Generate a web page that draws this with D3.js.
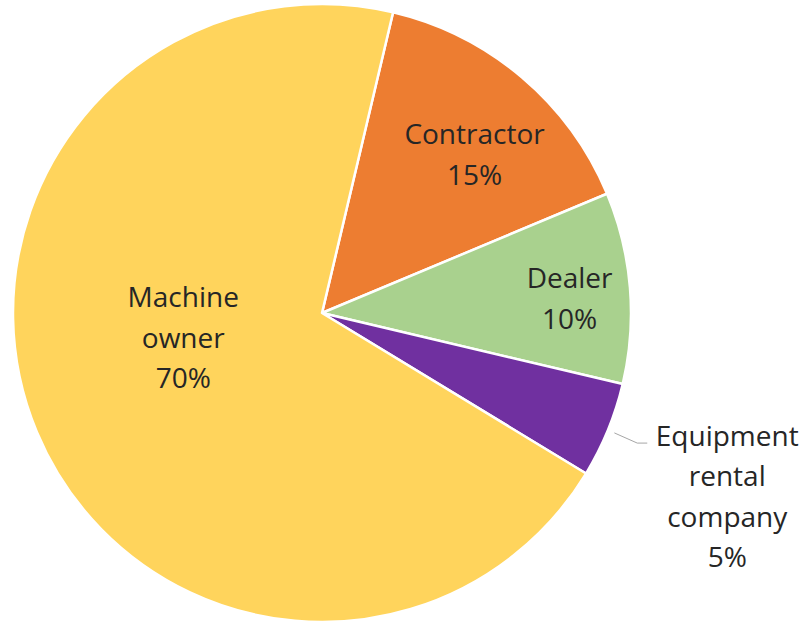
<!DOCTYPE html>
<html>
<head>
<meta charset="utf-8">
<script src="https://cdn.jsdelivr.net/npm/d3@7"></script>
<style>
  body { margin: 0; background: #fff; }
  text { font-family: "Open Sans", Lato, sans-serif; fill: #262626; }
</style>
</head>
<body>
<div id="chart"></div>
<script>
const width = 808;
const height = 626;

// data
const categories = ["Contractor", "Dealer", "Equipment rental company", "Machine owner"]
const shares = [15, 10, 5, 70]
const colors = ["#ED7D31", "#A9D18E", "#7030A0", "#FFD45C"]
// label lines (how the text is broken)
const labelLines = [
    ["Contractor", "15%"],
    ["Dealer", "10%"],
    ["Equipment", "rental", "company", "5%"],
    ["Machine", "owner", "70%"]
]

const cx = 322
const cy = 313
const radius = 309
const startDeg = 13.3
const fontSize = 28
const lineGap = 40.5

const svg = d3.select("#chart")
    .append("svg")
    .attr("width", width)
    .attr("height", height)

const pie = d3.pie()
    .sort(null)
    .value(d => d)
    .startAngle(startDeg * Math.PI / 180)
    .endAngle((startDeg + 360) * Math.PI / 180)

const arcs = pie(shares)
const arc = d3.arc().innerRadius(0).outerRadius(radius)

const g = svg.append("g").attr("transform", `translate(${cx},${cy})`)

g.selectAll("path.slice")
    .data(arcs)
    .enter()
    .append("path")
    .attr("class", "slice")
    .attr("d", arc)
    .attr("fill", (d, i) => colors[i])
    .attr("stroke", "#fff")
    .attr("stroke-width", 2.5)
    .attr("stroke-linejoin", "round")

// where Excel put each label: radius from centre and angle tweak (degrees)
const labelPlace = [
    { r: 220, shift: 3.6 },
    { r: 248, shift: 1.4 },
    { r: 445, shift: 2.1 },
    { r: 141, shift: 12.5 }
]

function polar(r, a) {
    return [r * Math.sin(a), -r * Math.cos(a)]
}

arcs.forEach((d, i) => {
    let mid = (d.startAngle + d.endAngle) / 2
    let [lx, ly] = polar(labelPlace[i].r, mid + labelPlace[i].shift * Math.PI / 180)
    let lines = labelLines[i]
    let top = ly - (lines.length - 1) * lineGap / 2
    let t = g.append("text")
        .attr("text-anchor", "middle")
        .style("font-size", `${fontSize}px`)
    lines.forEach((line, j) => {
        t.append("tspan")
            .attr("x", lx)
            .attr("y", top + j * lineGap)
            .attr("dy", "0.35em")
            .text(line)
    })
    if (i == 2) {
        // leader line from just outside the slice to the label
        let [ex, ey] = polar(radius + 7, mid)
        let bx = lx - 80
        let by = top + 7
        g.append("polyline")
            .attr("points", `${ex},${ey} ${bx - 10},${by} ${bx},${by}`)
            .attr("fill", "none")
            .attr("stroke", "#a6a6a6")
            .attr("stroke-width", 1)
    }
})
</script>
</body>
</html>
